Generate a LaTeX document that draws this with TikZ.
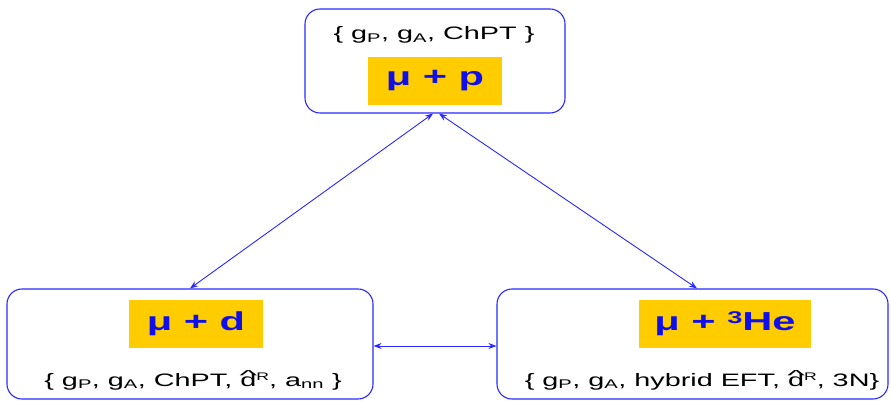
\documentclass[tikz,border=0pt]{standalone}
\usepackage{fontspec}
\setmainfont{Liberation Sans}[FakeStretch=1.6]
\usepackage{graphicx}
\usetikzlibrary{arrows.meta}
\definecolor{bordblue}{RGB}{40,40,255}
\definecolor{txtblue}{RGB}{15,15,235}
\definecolor{gold}{RGB}{255,204,0}
\newcommand\dhat{\ooalign{d\cr\hidewidth\raisebox{0.3em}{\scalebox{1.3}[0.8]{\textasciicircum}}\hidewidth\cr}}
\newcommand\supR[1]{\raisebox{0.3em}{\fontsize{11}{12}\selectfont #1}}
\begin{document}
\begin{tikzpicture}[x=1pt,y=-1pt,
  frame/.style={draw=bordblue,line width=1.1pt,rounded corners=15pt,inner sep=0pt},
  goldbox/.style={fill=gold,inner sep=0pt,text=txtblue,font=\fontsize{26}{28}\selectfont\bfseries},
  param/.style={anchor=base,inner sep=0pt,font=\fontsize{18}{20}\selectfont},
  link/.style={draw=bordblue,line width=0.9pt,{Stealth[length=8pt,width=6pt]}-{Stealth[length=8pt,width=6pt]}}
]
\useasboundingbox (0,0) rectangle (891,403);
% frames
\node[frame,minimum width=260pt,minimum height=104pt] (top) at (435,61) {};
\node[frame,minimum width=366pt,minimum height=110pt] (left) at (190,344) {};
\node[frame,minimum width=391pt,minimum height=110pt] (right) at (692.5,344) {};
% gold labels
\node[goldbox,minimum width=134pt,minimum height=48pt] (ptitle) at (435,81) {μ + p};
\node[goldbox,minimum width=134pt,minimum height=48pt] (dtitle) at (196,324) {μ + d};
\node[goldbox,minimum width=172pt,minimum height=48pt] (hetitle) at (725,324) {μ + \raisebox{0.28em}{\fontsize{17}{18}\selectfont 3}He};
% parameter lists
\node[param] (ppar) at (434,40) {\{ g\textsubscript{P}, g\textsubscript{A}, ChPT \}};
\node[param] (dpar) at (193,386) {\{ g\textsubscript{P}, g\textsubscript{A}, ChPT, \dhat\supR{R}, a\textsubscript{nn} \}};
\node[param] (hepar) at (702,386) {\{ g\textsubscript{P}, g\textsubscript{A}, hybrid EFT, \dhat\supR{R}, 3N\}};
% connectors
\draw[link] ([xshift=-2pt]top.south) -- (left.north);
\draw[link] ([xshift=4pt]top.south) -- ([xshift=4.5pt]right.north);
\draw[link] ([yshift=-2pt]left.east) -- ([yshift=-2pt]right.west);
\end{tikzpicture}
\end{document}
